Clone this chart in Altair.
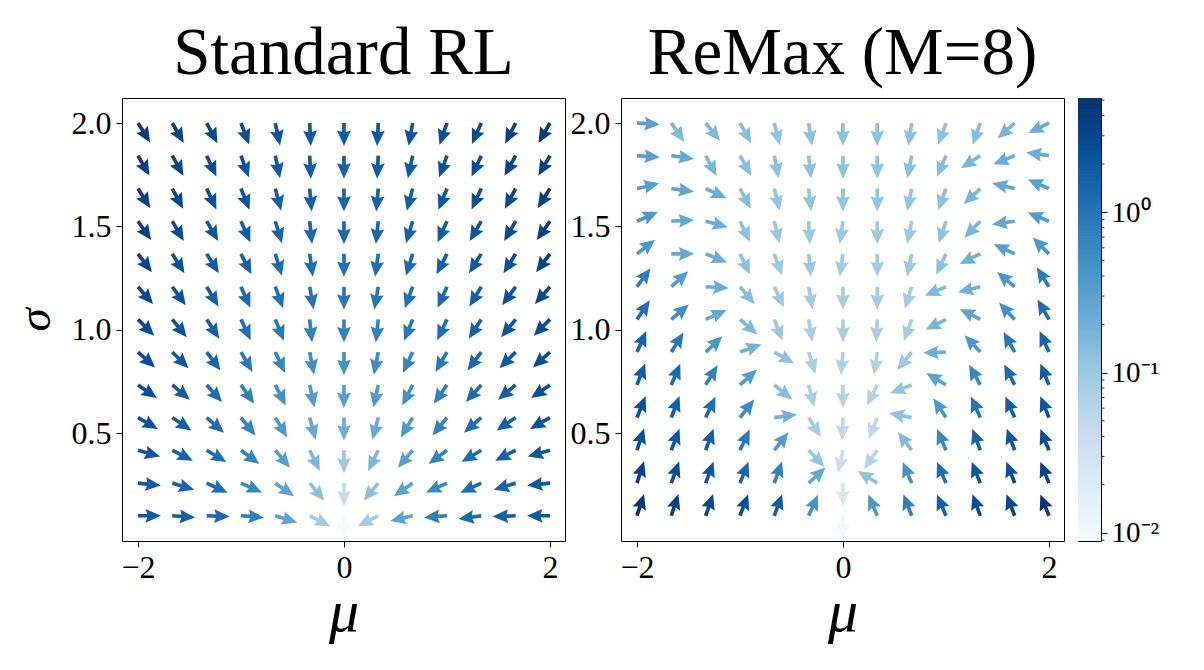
import altair as alt
import numpy as np
import pandas as pd

# grid of the vector fields
MU = [-2.0, -1.667, -1.333, -1.0, -0.667, -0.333, 0.0, 0.333, 0.667, 1.0, 1.333, 1.667, 2.0]
SIGMA = [2.0, 1.842, 1.683, 1.525, 1.367, 1.208, 1.05, 0.892, 0.733, 0.575, 0.417, 0.258, 0.1]

# arrow direction (degrees clockwise from "up" on screen), rows = SIGMA, cols = MU
STD_ANGLE = [
    [148, 150, 152, 159, 168, 177, 180, 183, 190, 199, 204, 207, 210],
    [150, 151, 155, 160, 168, 177, 180, 183, 192, 200, 205, 209, 210],
    [148, 152, 155, 158, 165, 175, 180, 185, 195, 202, 205, 208, 212],
    [145, 150, 150, 156, 163, 174, 180, 186, 197, 204, 210, 210, 215],
    [143, 148, 148, 153, 163, 172, 180, 188, 197, 207, 212, 212, 217],
    [139, 144, 149, 156, 160, 170, 180, 190, 200, 204, 211, 216, 221],
    [135, 141, 147, 155, 158, 174, 180, 186, 202, 205, 213, 219, 225],
    [132, 135, 143, 150, 155, 169, 180, 191, 205, 210, 217, 225, 228],
    [125, 130, 138, 145, 153, 168, 180, 192, 207, 215, 222, 230, 235],
    [120, 124, 131, 141, 149, 165, 180, 195, 211, 219, 229, 236, 240],
    [106, 117, 121, 127, 140, 154, 180, 206, 220, 233, 239, 243, 254],
    [96, 107, 115, 114, 125, 140, 180, 220, 235, 246, 245, 253, 264],
    [90, 94, 92, 94, 107, 117, 180, 243, 257, 266, 262, 268, 270],
]
# log10 of gradient magnitude
STD_LOGMAG = [
    [0.60, 0.52, 0.43, 0.38, 0.32, 0.27, 0.24, 0.27, 0.32, 0.38, 0.43, 0.52, 0.60],
    [0.57, 0.49, 0.41, 0.35, 0.27, 0.24, 0.21, 0.24, 0.27, 0.35, 0.41, 0.49, 0.57],
    [0.54, 0.46, 0.38, 0.30, 0.21, 0.19, 0.16, 0.19, 0.21, 0.30, 0.38, 0.46, 0.54],
    [0.52, 0.43, 0.32, 0.24, 0.16, 0.13, 0.10, 0.13, 0.16, 0.24, 0.32, 0.43, 0.52],
    [0.49, 0.38, 0.27, 0.19, 0.10, 0.05, 0.02, 0.05, 0.10, 0.19, 0.27, 0.38, 0.49],
    [0.46, 0.35, 0.21, 0.10, 0.02, -0.04, -0.06, -0.04, 0.02, 0.10, 0.21, 0.35, 0.46],
    [0.43, 0.32, 0.19, 0.05, -0.06, -0.15, -0.17, -0.15, -0.06, 0.05, 0.19, 0.32, 0.43],
    [0.41, 0.30, 0.13, -0.06, -0.20, -0.28, -0.34, -0.28, -0.20, -0.06, 0.13, 0.30, 0.41],
    [0.38, 0.24, 0.07, -0.12, -0.31, -0.45, -0.50, -0.45, -0.31, -0.12, 0.07, 0.24, 0.38],
    [0.35, 0.21, 0.05, -0.17, -0.40, -0.62, -0.67, -0.62, -0.40, -0.17, 0.05, 0.21, 0.35],
    [0.30, 0.16, 0.05, -0.17, -0.50, -0.78, -1.00, -0.78, -0.50, -0.17, 0.05, 0.16, 0.30],
    [0.27, 0.16, 0.07, -0.23, -0.53, -0.90, -1.36, -0.90, -0.53, -0.23, 0.07, 0.16, 0.27],
    [0.27, 0.21, 0.10, -0.12, -0.53, -1.05, -2.00, -1.05, -0.53, -0.12, 0.10, 0.21, 0.27],
]
REMAX_ANGLE = [
    [94, 146, 141, 151, 166, 172, 180, 180, 188, 200, 199, 228, 244],
    [94, 98, 152, 151, 169, 174, 180, 180, 191, 203, 237, 248, 278],
    [77, 98, 115, 152, 166, 174, 180, 180, 191, 200, 227, 283, 293],
    [66, 87, 105, 154, 167, 177, 188, 180, 191, 198, 224, 262, 292],
    [52, 90, 112, 154, 160, 174, 188, 180, 191, 205, 244, 295, 315],
    [36, 48, 93, 140, 155, 170, 180, 180, 197, 247, 256, 310, 328],
    [34, 50, 66, 131, 159, 171, 180, 183, 200, 243, 297, 317, 330],
    [24, 32, 47, 70, 120, 163, 185, 188, 219, 268, 317, 331, 336],
    [21, 23, 31, 48, 129, 166, 180, 207, 249, 301, 331, 333, 338],
    [22, 21, 25, 38, 82, 148, 182, 202, 281, 327, 336, 336, 338],
    [18, 21, 20, 25, 38, 137, 192, 215, 323, 337, 340, 340, 338],
    [18, 20, 20, 22, 20, 47, 180, 302, 337, 337, 338, 339, 338],
    [18, 18, 19, 21, 20, 24, 180, 337, 339, 337, 340, 339, 338],
]
REMAX_LOGMAG = [
    [-0.50, -0.80, -0.80, -0.85, -0.90, -0.90, -0.90, -0.90, -0.90, -0.90, -0.85, -0.75, -0.65],
    [-0.50, -0.60, -0.75, -0.85, -0.90, -0.92, -0.92, -0.92, -0.90, -0.85, -0.75, -0.65, -0.65],
    [-0.50, -0.60, -0.65, -0.85, -0.95, -0.95, -0.95, -0.95, -0.95, -0.90, -0.75, -0.60, -0.50],
    [-0.40, -0.60, -0.65, -0.90, -1.00, -1.00, -1.00, -1.00, -1.00, -0.90, -0.75, -0.60, -0.45],
    [-0.40, -0.60, -0.65, -0.90, -1.00, -1.00, -1.05, -1.05, -1.00, -0.90, -0.70, -0.50, -0.40],
    [-0.10, -0.45, -0.65, -0.85, -1.00, -1.05, -1.05, -1.05, -1.05, -0.80, -0.70, -0.40, -0.10],
    [0.05, -0.30, -0.60, -0.80, -1.00, -1.10, -1.10, -1.10, -1.05, -0.75, -0.55, -0.30, 0.05],
    [0.15, -0.05, -0.40, -0.70, -0.90, -1.10, -1.15, -1.15, -1.00, -0.70, -0.40, -0.05, 0.15],
    [0.25, 0.10, -0.15, -0.45, -0.85, -1.10, -1.20, -1.20, -0.95, -0.55, -0.20, 0.10, 0.25],
    [0.35, 0.20, 0.05, -0.25, -0.70, -1.05, -1.30, -1.30, -0.90, -0.40, 0.00, 0.20, 0.30],
    [0.40, 0.30, 0.20, -0.05, -0.45, -0.95, -1.40, -1.20, -0.80, -0.20, 0.15, 0.30, 0.40],
    [0.50, 0.40, 0.30, 0.15, -0.15, -0.60, -1.60, -0.90, -0.35, 0.05, 0.30, 0.40, 0.50],
    [0.65, 0.55, 0.45, 0.40, 0.25, -0.35, -1.95, -0.40, -0.10, 0.20, 0.40, 0.50, 0.65],
]

X_TICKS = [-2, 0, 2]
Y_TICKS = [0.5, 1.0, 1.5, 2.0]
CBAR_TICKS = [0.01, 0.1, 1]
CBAR_DOMAIN = [0.0089, 5.16]
# matplotlib "Blues" colormap nodes
BLUES = ["#f7fbff", "#deebf7", "#c6dbef", "#9ecae1", "#6baed6",
         "#4292c6", "#2171b5", "#08519c", "#08306b"]

FONT = "Liberation Serif"
PW, PH = 443, 443

# quiver-style arrow, tail at the symbol origin, pointing up
ARROW = ("M -0.16 0 L -0.16 -0.80 L -0.60 -0.66 L 0 -2 "
         "L 0.60 -0.66 L 0.16 -0.80 L 0.16 0 Z")


def field_frame(angles, logmags):
    rows = []
    for i, s in enumerate(SIGMA):
        for j, m in enumerate(MU):
            rows.append({"mu": m, "sigma": s,
                         "angle": angles[i][j] % 360,
                         "mag": 10 ** logmags[i][j]})
    return pd.DataFrame(rows)


# piecewise log colour scale through the Blues nodes (like LogNorm + Blues)
C_NODES = list(np.logspace(np.log10(CBAR_DOMAIN[0]), np.log10(CBAR_DOMAIN[1]), len(BLUES)))
CSCALE = alt.Scale(type="log", domain=C_NODES, range=BLUES, clamp=True,
                   interpolate="rgb")


def panel(df, title, ytitle):
    yaxis = dict(values=Y_TICKS, format=".1f", tickSize=6, labelPadding=5,
                 domain=False, grid=False, titlePadding=12, titleFontSize=47)
    if ytitle:
        yaxis["title"] = "σ"
    else:
        yaxis["title"] = None
    return alt.Chart(df).mark_point(
        shape=ARROW, filled=True, size=529, opacity=1, strokeWidth=0
    ).encode(
        x=alt.X("mu:Q",
                scale=alt.Scale(domain=[-2.155, 2.146], nice=False, zero=False),
                axis=alt.Axis(values=X_TICKS, title="μ", tickSize=6, labelPadding=5,
                              domain=False, grid=False, titlePadding=0,
                              titleFontSize=60)),
        y=alt.Y("sigma:Q",
                scale=alt.Scale(domain=[-0.022, 2.121], nice=False, zero=False),
                axis=alt.Axis(**yaxis)),
        angle=alt.Angle("angle:Q", scale=None),
        color=alt.Color("mag:Q", scale=CSCALE, legend=None),
    ).properties(
        width=PW, height=PH,
        title=alt.TitleParams(title, font=FONT, fontSize=67, fontWeight="normal",
                              color="black", offset=10, anchor="middle"),
    )


left = panel(field_frame(STD_ANGLE, STD_LOGMAG), "Standard RL", True)
right = panel(field_frame(REMAX_ANGLE, REMAX_LOGMAG), "ReMax (M=8)", False)

# colorbar
edges = np.logspace(np.log10(CBAR_DOMAIN[0]), np.log10(CBAR_DOMAIN[1]), 151)
cb = pd.DataFrame({"lo": edges[:-1], "hi": np.minimum(edges[1:] * 1.01, CBAR_DOMAIN[1]),
                   "mid": np.sqrt(edges[:-1] * edges[1:])})
minor = pd.DataFrame({"lo": [k * 10.0 ** e for e in (-3, -2, -1, 0)
                             for k in range(2, 10)
                             if CBAR_DOMAIN[0] <= k * 10.0 ** e <= CBAR_DOMAIN[1]]})
CB_W = 23
cb_y = alt.Scale(type="log", domain=CBAR_DOMAIN, nice=False)
cb_axis = alt.Axis(orient="right", values=CBAR_TICKS, title=None, grid=False,
                   domain=False, tickSize=6, labelPadding=4, labelFontSize=29,
                   labelExpr="datum.value > 0.5 ? '10⁰' : (datum.value > 0.05 ? '10⁻¹' : '10⁻²')")
grad = alt.Chart(cb).mark_rect().encode(
    x=alt.value(0), x2=alt.value(CB_W),
    y=alt.Y("lo:Q", scale=cb_y, axis=cb_axis),
    y2="hi:Q",
    color=alt.Color("mid:Q", scale=CSCALE, legend=None),
)
ticks = alt.Chart(minor).mark_rule(color="black", strokeWidth=0.8).encode(
    x=alt.value(CB_W), x2=alt.value(CB_W + 3.5),
    y=alt.Y("lo:Q", scale=cb_y, axis=cb_axis),
)
cbar = alt.layer(grad, ticks).properties(width=CB_W, height=PH)

chart = alt.hconcat(
    alt.hconcat(left, right, spacing=3),
    cbar,
    spacing=12,
).configure_view(
    stroke="black", strokeWidth=1
).configure_axis(
    labelFont=FONT, labelFontSize=32, labelColor="black",
    tickColor="black", tickWidth=1,
    titleFont=FONT, titleFontWeight="normal",
    titleFontStyle="italic", titleColor="black",
).properties(
    padding={"left": 10, "top": 19, "right": 5, "bottom": 5},
    background="white",
)

chart.save("out.html", embed_options={"renderer": "svg", "actions": False})
